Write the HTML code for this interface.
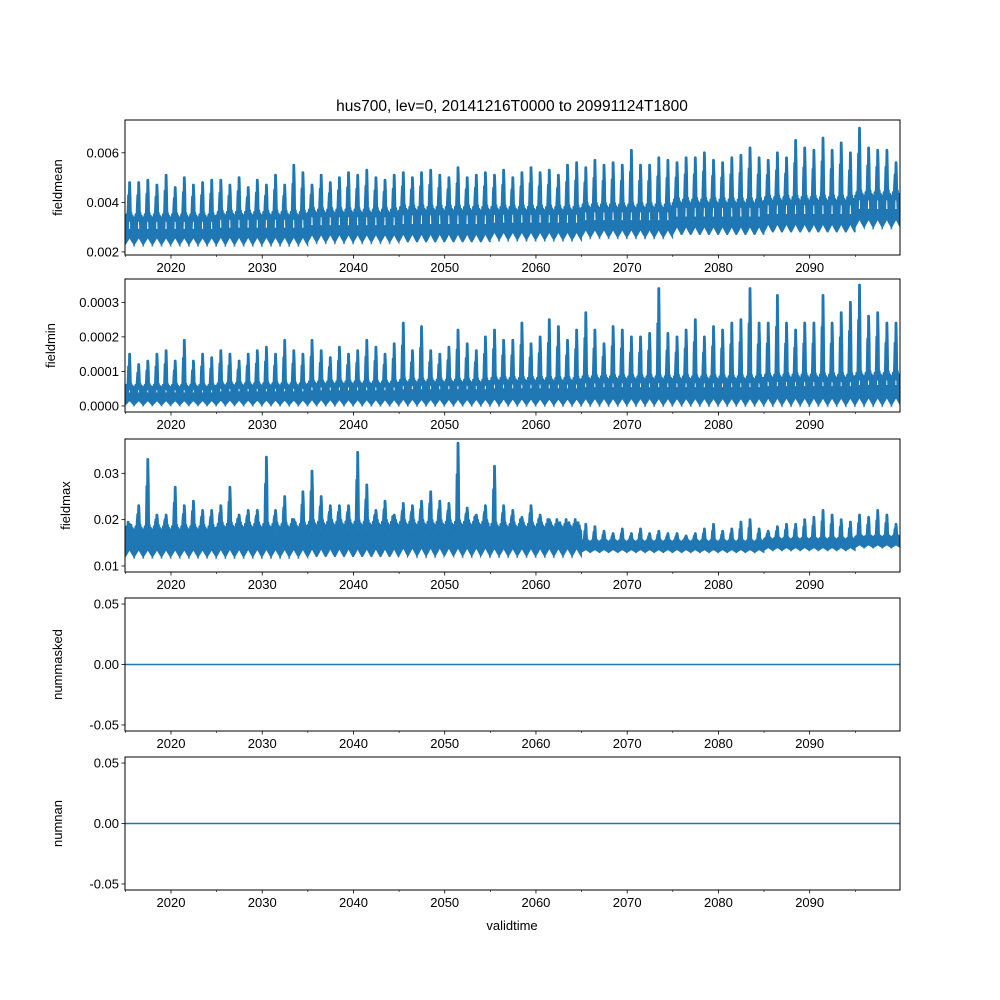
<!DOCTYPE html>
<html><head><meta charset="utf-8"><style>
body{margin:0;background:#fff;}
svg{display:block;font-family:"Liberation Sans","DejaVu Sans",sans-serif;}
</style></head><body>
<svg id="c" width="1000" height="1000" viewBox="0 0 1000 1000"></svg>
<script>
// ---- data ----
const startYear = 2015;
const meanPeak = [0.0048,0.0048,0.0049,0.0047,0.0051,0.0046,0.0050,0.0047,0.0048,0.0049,0.0049,0.0047,0.0050,0.0046,0.0049,0.0047,0.0051,0.0047,0.0055,0.0052,0.0047,0.0051,0.0048,0.0050,0.0052,0.0051,0.0053,0.0050,0.0049,0.0051,0.0052,0.0050,0.0052,0.0053,0.0051,0.0050,0.0054,0.0050,0.0051,0.0052,0.0051,0.0053,0.0050,0.0052,0.0054,0.0052,0.0053,0.0051,0.0055,0.0056,0.0054,0.0057,0.0055,0.0056,0.0055,0.0061,0.0055,0.0055,0.0058,0.0057,0.0056,0.0058,0.0058,0.0060,0.0057,0.0056,0.0058,0.0059,0.0062,0.0058,0.0057,0.0060,0.0058,0.0065,0.0062,0.0061,0.0066,0.0061,0.0064,0.0060,0.0070,0.0062,0.0061,0.0061,0.0056];
const meanLowDecade = [0.0023,0.0023,0.0024,0.0024,0.0025,0.0026,0.0027,0.0028,0.0030];
const meanBandDecade = [0.0035,0.0036,0.0037,0.0038,0.0038,0.0039,0.0041,0.0042,0.0044];
const minPeak = [1.5,1.2,1.3,1.5,1.6,1.3,1.9,1.3,1.5,1.4,1.6,1.5,1.3,1.5,1.6,1.7,1.5,1.9,1.6,1.5,1.9,1.6,1.4,1.7,1.5,1.6,1.9,1.7,1.5,1.8,2.4,1.6,2.3,1.6,1.5,1.7,2.2,1.8,1.6,2.0,2.2,1.9,1.9,2.4,1.8,2.0,2.5,2.3,1.9,2.2,2.7,2.2,1.8,2.3,2.2,2.0,2.0,2.1,3.4,2.1,2.0,2.2,2.5,2.0,2.3,2.2,2.4,2.5,3.4,2.4,2.4,3.2,2.4,2.2,2.4,2.4,3.2,2.4,2.7,3.0,3.5,2.6,2.7,2.4,2.4];
const minLowDecade = [0.03,0.03,0.03,0.03,0.03,0.03,0.03,0.03,0.03];
const minBandDecade = [0.6,0.65,0.7,0.75,0.8,0.85,0.85,0.9,0.95];
const maxPeak = [1.9,2.3,3.3,2.1,2.1,2.7,2.3,2.4,2.2,2.2,2.3,2.7,2.1,2.2,2.2,3.35,2.2,2.5,2.0,2.6,3.05,2.5,2.3,2.3,2.3,3.45,2.75,2.2,2.4,2.1,2.35,2.3,2.4,2.6,2.4,2.35,3.65,2.25,2.1,2.3,3.15,2.3,2.2,2.05,2.3,2.1,2.0,1.8,1.75,1.8,1.9,1.85,1.75,1.7,1.8,1.7,1.8,1.7,1.75,1.7,1.7,1.65,1.7,1.8,1.9,1.75,1.8,1.95,2.0,1.8,1.75,1.85,1.9,1.9,2.0,2.05,2.2,2.1,2.0,1.95,2.1,2.05,2.2,2.1,1.9];
const maxLowDecade = [1.2,1.2,1.2,1.22,1.22,1.3,1.3,1.34,1.4];
const maxBandDecade = [1.85,1.9,1.95,1.95,1.9,1.55,1.55,1.6,1.65];
const xTicks = [2020,2030,2040,2050,2060,2070,2080,2090];
const meanTicks = [0.002,0.004,0.006];
const minTicks = [0,0.0001,0.0002,0.0003];
const maxTicks = [0.01,0.02,0.03];
const zeroTicks = [-0.05,0,0.05];

// ---- layout ----
const NS="http://www.w3.org/2000/svg";
const svg=document.getElementById('c');
const X0=125,X1=900, XMIN=2014.96, XMAX=2099.9;
const xs=v=>X0+(v-XMIN)/(XMAX-XMIN)*(X1-X0);
const C='#1f77b4';
function el(t,a,p){const e=document.createElementNS(NS,t);for(const k in a)e.setAttribute(k,a[k]);(p||svg).appendChild(e);return e;}
function mk(top,bot,ymin,ymax){return v=>bot-(v-ymin)/(ymax-ymin)*(bot-top);}

const panels=[
 {name:'fieldmean',top:120,bot:255,ymin:0.001875,ymax:0.007325,ticks:meanTicks,fmt:v=>v.toFixed(3),lx:62},
 {name:'fieldmin',top:279,bot:412,ymin:-0.0000175,ymax:0.0003675,ticks:minTicks,fmt:v=>v.toFixed(4),lx:55},
 {name:'fieldmax',top:439,bot:572,ymin:0.0087,ymax:0.0374,ticks:maxTicks,fmt:v=>v.toFixed(2),lx:70},
 {name:'nummasked',top:598,bot:731,ymin:-0.055,ymax:0.055,ticks:zeroTicks,fmt:v=>v.toFixed(2),lx:62},
 {name:'numnan',top:757,bot:890,ymin:-0.055,ymax:0.055,ticks:zeroTicks,fmt:v=>v.toFixed(2),lx:62}
];

// shape: fractions of year -> fraction between lo and band, 'P' = peak, 'Q' = between band and peak
const upperShape=[[0,0.3],[0.07,0.9],[0.13,0.45],[0.2,1.0],[0.27,0.5],[0.34,1.15],[0.4,'Q'],[0.44,0.9],[0.5,'P'],[0.55,'Q'],[0.6,0.8],[0.66,1.05],[0.72,0.45],[0.8,0.95],[0.87,0.4],[0.94,0.8],[1,0.3]];
const lowerShape=[[0,0],[0.25,0.12],[0.5,0.25],[0.75,0.12],[1,0]];

function yearShapes(g,ys,peaks,lowFn,bandFn,scale,fillFrac){
  const n=Math.min(peaks.length,85);
  for(let i=0;i<n;i++){
    const x0=startYear+i-0.04, d=Math.floor(i/10);
    const lo=lowFn(d)*scale, bd=bandFn(d)*scale, pk=peaks[i]*scale;
    const val=f=>f==='P'?pk:(f==='Q'?bd+(pk-bd)*0.6:lo+(bd-lo)*f);
    let line='';
    upperShape.forEach(p=>{line+=xs(x0+p[0]).toFixed(1)+','+ys(val(p[1])).toFixed(1)+' ';});
    let poly='';
    upperShape.forEach(p=>{const v=(typeof p[1]==='string')?lo+(bd-lo)*fillFrac:lo+(bd-lo)*Math.min(p[1],fillFrac);poly+=xs(x0+p[0]).toFixed(1)+','+ys(v).toFixed(1)+' ';});
    lowerShape.slice().reverse().forEach(p=>{poly+=xs(x0+p[0]).toFixed(1)+','+ys(lo+(bd-lo)*p[1]).toFixed(1)+' ';});
    const f=el('polygon',{points:poly,fill:C,stroke:C,'stroke-width':1.5},g);
    
    
    const p=el('polyline',{points:line,fill:'none',stroke:C,'stroke-width':2.8,'stroke-linejoin':'round'},g);
    
    
  }
}

panels.forEach((P,k)=>{
  const g=el('g',{});
  
  
  const ys=mk(P.top,P.bot,P.ymin,P.ymax);
  const cp=el('clipPath',{id:'cp'+k},g);el('rect',{x:X0,y:P.top,width:X1-X0,height:P.bot-P.top},cp);
  const sg=el('g',{'clip-path':'url(#cp'+k+')'},g);
  
  
  if(k===0) yearShapes(sg,ys,meanPeak,d=>meanLowDecade[d],d=>meanBandDecade[d],1,0.5);
  if(k===1) yearShapes(sg,ys,minPeak,d=>minLowDecade[d],d=>minBandDecade[d],0.0001,0.6);
  if(k===2) yearShapes(sg,ys,maxPeak,d=>maxLowDecade[d],d=>maxBandDecade[d],0.01,0.75);
  if(k>=3){const l=el('line',{x1:X0,x2:X1,y1:ys(0),y2:ys(0),stroke:C,'stroke-width':1.5},sg);
    }
  const fr=el('rect',{x:X0,y:P.top,width:X1-X0,height:P.bot-P.top,fill:'none',stroke:'#000','stroke-width':1},g);
  
  P.ticks.forEach(t=>{const y=ys(t);
    el('line',{x1:X0-3.5,x2:X0,y1:y,y2:y,stroke:'#000','stroke-width':0.8},g);
    const tx=el('text',{x:X0-6,y:y+4.5,'font-size':13,'text-anchor':'end'},g);tx.textContent=P.fmt(t);
    });
  for(let yr=2015;yr<=2095;yr+=5){const x=xs(yr);const major=yr%10===0;
    el('line',{x1:x,x2:x,y1:P.bot,y2:P.bot+(major?3.5:2),stroke:'#000','stroke-width':major?0.8:0.6},g);}
  xTicks.forEach(yr=>{const tx=el('text',{x:xs(yr),y:P.bot+17,'font-size':13,'text-anchor':'middle'},g);tx.textContent=yr;
    });
  const yl=el('text',{x:P.lx,y:(P.top+P.bot)/2,'font-size':13,'text-anchor':'middle',transform:'rotate(-90 '+P.lx+' '+(P.top+P.bot)/2+')'},g);
  yl.textContent=P.name;
});
const t=el('text',{x:512,y:111,'font-size':15.5,'text-anchor':'middle'});t.textContent='hus700, lev=0, 20141216T0000 to 20991124T1800';

const xl=el('text',{x:512,y:930,'font-size':13,'text-anchor':'middle'});xl.textContent='validtime';

</script>
</body></html>
